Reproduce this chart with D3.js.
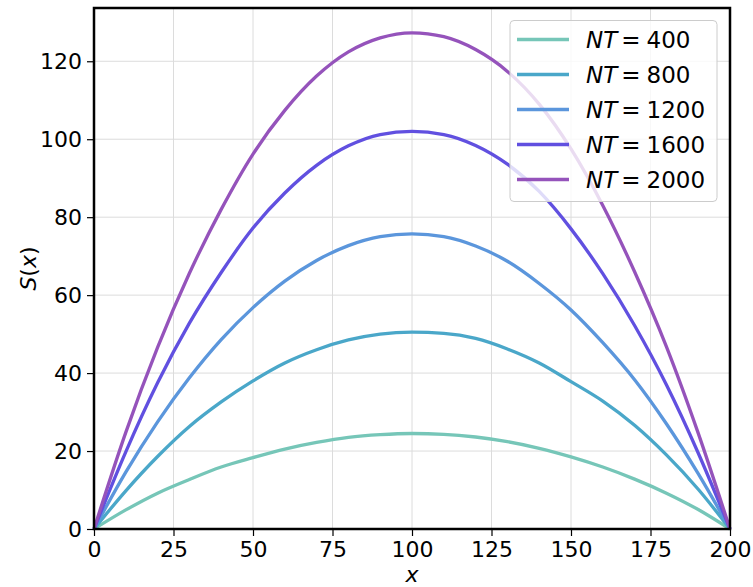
<!DOCTYPE html>
<html>
<head>
<meta charset="utf-8">
<script src="https://cdn.jsdelivr.net/npm/d3@7"></script>
<style>
  html, body { margin: 0; padding: 0; background: #fff; }
  svg { display: block; }
  text { font-family: "DejaVu Sans", sans-serif; }
</style>
</head>
<body>
<svg id="chart" width="753" height="587"></svg>
<script>
const xValues = [0, 10, 20, 30, 40, 50, 60, 70, 80, 90, 100, 110, 120, 130, 140, 150, 160, 170, 180, 190, 200];
const seriesNames = ["400", "800", "1200", "1600", "2000"];
const s400  = [0, 4.9, 9.2, 12.7, 15.9, 18.3, 20.5, 22.2, 23.5, 24.2, 24.5, 24.3, 23.6, 22.4, 20.7, 18.5, 15.9, 12.8, 9.2, 5.0, 0];
const s800  = [0, 9.8, 18.6, 26.3, 32.6, 38.0, 42.6, 46.0, 48.5, 50.0, 50.5, 50.2, 48.9, 46.2, 42.6, 37.8, 32.8, 26.6, 19.0, 10.2, 0];
const s1200 = [0, 14.6, 27.5, 38.8, 48.6, 56.8, 63.6, 68.9, 72.7, 75.0, 75.7, 75.0, 72.6, 68.7, 63.0, 56.2, 47.8, 38.3, 27.0, 14.2, 0];
const s1600 = [0, 19.8, 37.5, 52.8, 65.8, 77.2, 86.2, 93.3, 98.3, 101.2, 102.0, 101.2, 98.4, 93.6, 86.6, 77.0, 65.5, 52.2, 37.0, 19.5, 0];
const s2000 = [0, 24.8, 46.6, 65.6, 82.0, 96.2, 107.4, 116.2, 122.4, 126.0, 127.3, 126.3, 123.0, 117.4, 109.0, 97.5, 83.0, 66.0, 46.8, 24.6, 0];
const seriesValues = [s400, s800, s1200, s1600, s2000];
const colors = ["#76c6b8", "#4aa7c9", "#5b96dc", "#6150e0", "#9553bb"];
const xTicks = [0, 25, 50, 75, 100, 125, 150, 175, 200];
const yTicks = [0, 20, 40, 60, 80, 100, 120];

const svg = d3.select("#chart");
const mLeft = 94, mRight = 730, mTop = 8, mBottom = 529;
const yMax = d3.max(s2000) * 1.05;

const x = d3.scaleLinear().domain([0, 200]).range([mLeft, mRight]);
const y = d3.scaleLinear().domain([0, yMax]).range([mBottom, mTop]);

// grid
const grid = svg.append("g");
grid.selectAll("line.gx").data(xTicks).join("line")
  .attr("x1", d => x(d)).attr("x2", d => x(d))
  .attr("y1", mTop).attr("y2", mBottom)
  .attr("stroke", "#dcdcdc").attr("stroke-width", 1);
grid.selectAll("line.gy").data(yTicks).join("line")
  .attr("x1", mLeft).attr("x2", mRight)
  .attr("y1", d => y(d)).attr("y2", d => y(d))
  .attr("stroke", "#dcdcdc").attr("stroke-width", 1);

// lines
const line = d3.line()
  .x((d, i) => x(xValues[i]))
  .y(d => y(d))
  .curve(d3.curveMonotoneX);

svg.append("g").selectAll("path").data(seriesValues).join("path")
  .attr("d", d => line(d))
  .attr("fill", "none")
  .attr("stroke", (d, i) => colors[i])
  .attr("stroke-width", 3.3)
  .attr("stroke-linejoin", "round");

// axes
const xAxis = d3.axisBottom(x).tickValues(xTicks).tickSize(7).tickPadding(5).tickFormat(d3.format("d"));
const yAxis = d3.axisLeft(y).tickValues(yTicks).tickSize(7).tickPadding(5).tickFormat(d3.format("d"));

const gx = svg.append("g").attr("transform", `translate(0,${mBottom})`).call(xAxis);
const gy = svg.append("g").attr("transform", `translate(${mLeft},0)`).call(yAxis);
[gx, gy].forEach(g => {
  g.select(".domain").remove();
  g.selectAll(".tick line").attr("stroke", "#000").attr("stroke-width", 1.2);
  g.selectAll(".tick text").attr("fill", "#000").style("font-size", "22px").style("font-family", "DejaVu Sans");
});

// frame
svg.append("rect")
  .attr("x", mLeft).attr("y", mTop)
  .attr("width", mRight - mLeft).attr("height", mBottom - mTop)
  .attr("fill", "none").attr("stroke", "#000").attr("stroke-width", 2.5);

// axis labels
svg.append("text")
  .attr("x", (mLeft + mRight) / 2).attr("y", 582)
  .attr("text-anchor", "middle")
  .style("font-size", "22px").style("font-style", "italic")
  .text("x");

const yl = svg.append("text")
  .attr("transform", `translate(36,${(mTop + mBottom) / 2}) rotate(-90)`)
  .attr("text-anchor", "middle")
  .style("font-size", "22px");
yl.append("tspan").style("font-style", "italic").text("S");
yl.append("tspan").text("(");
yl.append("tspan").style("font-style", "italic").text("x");
yl.append("tspan").text(")");

// legend
const lg = svg.append("g");
lg.append("rect")
  .attr("x", 510).attr("y", 20.5)
  .attr("width", 207).attr("height", 181)
  .attr("rx", 4).attr("ry", 4)
  .attr("fill", "#fff").attr("fill-opacity", 0.8)
  .attr("stroke", "#cccccc").attr("stroke-width", 1);

const rows = lg.selectAll("g.row").data(seriesNames).join("g")
  .attr("transform", (d, i) => `translate(0,${39.5 + i * 35})`);
rows.append("line")
  .attr("x1", 517).attr("x2", 569)
  .attr("y1", 0).attr("y2", 0)
  .attr("stroke", (d, i) => colors[i])
  .attr("stroke-width", 3.3);
const lt = rows.append("text")
  .attr("x", 586).attr("y", 8.5)
  .style("font-size", "23px");
lt.append("tspan").style("font-style", "italic").text("NT");
lt.append("tspan").attr("dx", 4).text("=");
lt.append("tspan").attr("dx", 6).text(d => d);
</script>
</body>
</html>
